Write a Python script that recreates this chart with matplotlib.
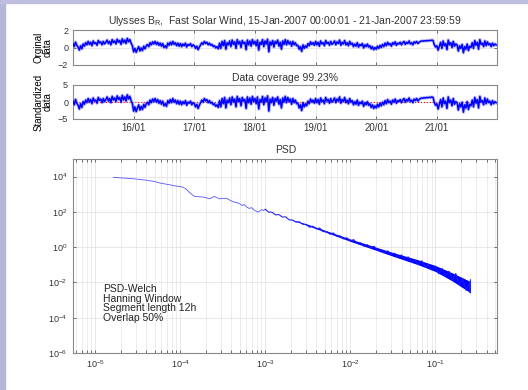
import numpy as np
import matplotlib.pyplot as plt
from matplotlib.patches import Rectangle
from matplotlib.ticker import LogLocator, NullFormatter, FixedLocator

plt.rcParams['font.family'] = ['Liberation Sans', 'DejaVu Sans']
plt.rcParams['mathtext.fontset'] = 'custom'
plt.rcParams['mathtext.rm'] = 'Liberation Sans'
plt.rcParams['mathtext.it'] = 'Liberation Sans:italic'
plt.rcParams['mathtext.bf'] = 'Liberation Sans:bold'

# Ulysses radial field B_R, half-hourly samples, one list per day
br_15 = [0.45, 0.10, 0.62, 0.25, 0.05, -0.30, 0.20, -0.15, 0.40, 0.15, 0.55, 0.30,
         0.70, 0.35, 0.60, 0.20, 0.75, 0.45, 0.55, 0.25, 0.80, 0.50, 0.65, 0.30, 0.70, 0.40, 0.60,
         0.85, 0.45, 0.70, 0.30, 0.90, 0.55, 0.75, 0.40, 0.95, 0.60, 0.80, 0.35, 1.00, 0.55, 0.85, 0.45, 1.05, 0.65,
         0.90, 0.50, 0.20]
br_16 = [-0.50, -0.10, -0.55, -0.20, 0.10, -0.40, -0.05, -0.35, 0.15, -0.15,
         0.20, 0.35, 0.10, 0.55, 0.30, 0.65, 0.40,
         0.70, 0.35, 0.60, 0.25, 0.50, 0.15, 0.45,
         0.00, 0.20, -0.05,
         0.50, 0.25, 0.60, 0.30, 0.70, 0.35, 0.55, 0.20, 0.50,
         0.15, 0.45, 0.10, 0.40, 0.20, 0.50, 0.05, 0.35, 0.25, 0.45, 0.10, 0.30]
br_17 = [0.20, -0.10, 0.15, -0.25, 0.05, 0.30,
         0.55, 0.35, 0.70, 0.45, 0.60, 0.30,
         0.50, 0.25, 0.35, 0.10, 0.20, -0.05, 0.10, -0.15,
         0.50, -0.10, 0.70, 0.20, 0.80, -0.20, 0.55, 0.30,
         0.75, 0.10, 0.85, 0.35, 0.65, -0.10, 0.90, 0.40, 0.70, 0.00, 0.80, 0.45, 0.60, -0.25, 0.85, 0.30,
         0.75, 0.15, 0.90, 0.40]
br_18 = [0.70, 0.20, 0.85, -0.30, 0.60, 0.35, 0.90, 0.10, 0.75, 0.40, 0.95, -0.50, 0.65, 0.30, 0.80, 0.05,
         0.70, 0.45, 0.85, 0.15, 0.60, -0.20, 0.75, 0.35, 0.90, 0.30,
         0.80, 0.40, 0.65, 0.15, 0.70, 0.30, 0.55, 0.20,
         0.25, -0.20, 0.10, -0.45, 0.30, -0.10, 0.20, 0.00,
         0.45, 0.20, 0.65, 0.35, 0.55, 0.25]
br_19 = [0.70, 0.30, 0.60, 0.15, 0.75, 0.40, 0.55, 0.20, 0.80, 0.45, 0.60, 0.25, 0.70, 0.35, 0.50,
         0.75, 0.30, 0.65, 0.45, 0.85, 0.25, 0.60, 0.40, 0.80, 0.30, 0.55, 0.20, 0.70, 0.35,
         0.50, 0.10, 0.40, 0.15, 0.55, 0.05, 0.35, 0.20, 0.45, -0.05, 0.30, 0.10, 0.40,
         0.05, 0.20, -0.15, 0.10, -0.25, 0.00]
br_20 = [-0.20, 0.15, -0.10, 0.25, 0.00, 0.35, 0.10,
         0.50, 0.20, 0.60, 0.30, 0.45, 0.15, 0.55, 0.35, 0.65, 0.25, 0.50, 0.40, 0.60, 0.30, 0.55,
         0.70, 0.35, 0.60, 0.45, 0.75, 0.40, 0.55, 0.30, 0.65, 0.50, 0.70, 0.45, 0.60,
         0.70, 0.75, 0.72, 0.78, 0.74, 0.80, 0.76, 0.82, 0.78, 0.85, 0.80,
         0.30, 0.05]
br_21 = [0.20, -0.30, 0.15,
         0.60, -0.10, 0.75, 0.20, 0.45, -0.25, 0.85, 0.30, 0.55, 0.00, 0.70, 0.15, 0.40,
         0.30, -0.40, 0.20, -0.10, 0.35, -0.60, 0.10, -0.20, 0.40, -0.35, 0.15, 0.00,
         0.55, -0.10, 0.80, 0.25, 0.60, -0.20, 0.90, 0.35, 0.50, 0.10, 0.75, 0.20, 0.65, 0.30,
         0.45, 0.10, 0.50, 0.20, 0.40, 0.30]

day_ticks = [1, 2, 3, 4, 5, 6]
day_labels = ['16/01', '17/01', '18/01', '19/01', '20/01', '21/01']
coverage = 99.23

# Welch PSD, log10(frequency) and log10(power); smooth low-frequency end first
psd_logf_low = [-4.785, -4.70, -4.60, -4.47, -4.40, -4.30, -4.24, -4.15, -4.05, -3.98,
                -3.94, -3.90, -3.86, -3.83, -3.78, -3.73, -3.69, -3.66, -3.63, -3.60,
                -3.57, -3.54, -3.50, -3.46, -3.42, -3.39, -3.36, -3.33, -3.30, -3.27,
                -3.25, -3.22, -3.19, -3.16, -3.13, -3.10, -3.08, -3.06, -3.04, -3.02,
                -3.00]
psd_logp_low = [3.96, 3.93, 3.90, 3.84, 3.80, 3.72, 3.64, 3.56, 3.47, 3.42,
                3.33, 3.15, 2.98, 2.88, 2.86, 2.84, 2.80, 2.74, 2.80, 2.88,
                2.82, 2.74, 2.76, 2.78, 2.68, 2.60, 2.55, 2.52, 2.46, 2.36,
                2.42, 2.28, 2.20, 2.24, 2.10, 2.03, 1.99, 2.08, 2.13, 2.07,
                2.15]
psd_logf_high = [-3.00, -2.96, -2.92, -2.88, -2.84, -2.80, -2.76, -2.72, -2.68, -2.64,
                 -2.60, -2.56, -2.52, -2.48, -2.44, -2.40, -2.36, -2.32, -2.28, -2.24,
                 -2.20, -2.16, -2.12, -2.08, -2.04, -2.00, -1.96, -1.92, -1.88, -1.84,
                 -1.80, -1.76, -1.72, -1.68, -1.64, -1.60, -1.56, -1.52, -1.48, -1.44,
                 -1.40, -1.36, -1.32, -1.28, -1.24, -1.20, -1.16, -1.12, -1.08, -1.04,
                 -1.00, -0.96, -0.92, -0.88, -0.84, -0.80, -0.76, -0.72, -0.68, -0.64,
                 -0.60, -0.59, -0.588]
psd_logp_high = [2.15, 1.99, 1.98, 1.83, 1.85, 1.71, 1.72, 1.55, 1.54, 1.42,
                 1.44, 1.30, 1.29, 1.13, 1.19, 1.04, 1.08, 0.88, 0.89, 0.74,
                 0.81, 0.62, 0.64, 0.47, 0.53, 0.36, 0.43, 0.21, 0.25, 0.05,
                 0.14, -0.03, 0.05, -0.19, -0.14, -0.31, -0.21, -0.42, -0.34, -0.60,
                 -0.44, -0.67, -0.55, -0.83, -0.74, -0.99, -0.77, -1.11, -0.98, -1.29,
                 -1.07, -1.52, -1.21, -1.64, -1.36, -1.88, -1.49, -2.14, -1.76, -2.45,
                 -2.08, -2.60, -1.85]

# spread of the estimate at high frequencies
band_logf = [-2.7, -2.5, -2.0, -1.5, -1.2, -1.0, -0.8, -0.6]
band_hi = [1.58, 1.30, 0.46, -0.30, -0.72, -1.04, -1.46, -1.92]
band_lo = [1.56, 1.22, 0.33, -0.51, -1.00, -1.38, -1.92, -2.55]

br = np.array(br_15 + br_16 + br_17 + br_18 + br_19 + br_20 + br_21)
t_days = np.arange(br.size) / 48.0
br_std = (br - br.mean()) / br.std()

W, H = 528, 390
fig = plt.figure(figsize=(W / 100, H / 100), dpi=100)
fig.patch.set_facecolor('white')
# slide frame
fig.add_artist(Rectangle((0, 0), 5 / W, 1, transform=fig.transFigure, color='#b4b6dc', zorder=0))
fig.add_artist(Rectangle((0, 1 - 3 / H), 1, 3 / H, transform=fig.transFigure, color='#c0bede', zorder=0))

spine_c = '#8a8a8a'
grid_c = '#e4e4e4'


def style(ax):
    for s in ax.spines.values():
        s.set_color(spine_c)
        s.set_linewidth(0.8)
    ax.tick_params(which='both', direction='in', colors='#555555', labelcolor='#333333',
                   labelsize=6.5, length=2, width=0.6, top=True, right=True)


left, width = 73 / W, 424.5 / W
ax1 = fig.add_axes([left, 1 - 65 / H, width, 35 / H])
ax2 = fig.add_axes([left, 1 - 119 / H, width, 34 / H])
ax3 = fig.add_axes([left, 1 - 353 / H, width, 194 / H])

for ax, y, lim, ticks in [(ax1, br, 2, [-2, 0, 2]), (ax2, br_std, 5, [-5, 0, 5])]:
    style(ax)
    if ax is ax2:
        ax.axhline(0, color='red', lw=0.8, ls=':', zorder=1)
    # soft halo under the trace, then the trace itself
    ax.plot(t_days, y, color='#7070ff', lw=2.4, alpha=0.45, zorder=2)
    ax.plot(t_days, y, color='#0000ff', lw=1.1, zorder=3)
    ax.set_xlim(0, 7)
    ax.set_ylim(-lim, lim)
    ax.set_yticks(ticks)
    ax.set_xticks(day_ticks)
    ax.grid(True, color=grid_c, lw=0.6)
    ax.set_axisbelow(True)

ax1.set_xticklabels([])
ax2.set_xticklabels(day_labels, fontsize=7)
ax2.tick_params(axis='x', pad=3)

ax1.set_title('Ulysses B$_{\\mathrm{R}}$,  Fast Solar Wind, 15-Jan-2007 00:00:01 - 21-Jan-2007 23:59:59',
              fontsize=7.5, color='#333333', pad=4)
ax2.set_title('Data coverage %.2f%%' % coverage, fontsize=7.5, color='#333333', pad=3)
ax1.set_ylabel('Orginal\ndata', fontsize=7, family=['Liberation Sans Narrow', 'Liberation Sans'],
               linespacing=0.9, labelpad=4)
ax2.set_ylabel('Standardized\ndata', fontsize=7, family=['Liberation Sans Narrow', 'Liberation Sans'],
               linespacing=0.9, labelpad=4)

# power spectral density
style(ax3)
ax3.fill_between(10.0 ** np.array(band_logf), 10.0 ** np.array(band_lo), 10.0 ** np.array(band_hi),
                 color='#0000ff', lw=0, zorder=2)
ax3.plot(10.0 ** np.array(psd_logf_low), 10.0 ** np.array(psd_logp_low),
         color='#5555ff', lw=0.6, zorder=3)
ax3.plot(10.0 ** np.array(psd_logf_high), 10.0 ** np.array(psd_logp_high),
         color='#1a1aff', lw=0.75, zorder=3)
ax3.set_xscale('log')
ax3.set_yscale('log')
ax3.set_xlim(10 ** -5.26, 10 ** -0.27)
ax3.set_ylim(1e-6, 1e5)
ax3.xaxis.set_major_locator(LogLocator(base=10, numticks=10))
ax3.xaxis.set_minor_locator(LogLocator(base=10, subs=np.arange(2, 10), numticks=20))
ax3.xaxis.set_minor_formatter(NullFormatter())
ax3.yaxis.set_major_locator(FixedLocator([1e-6, 1e-4, 1e-2, 1e0, 1e2, 1e4]))
ax3.yaxis.set_minor_locator(FixedLocator([]))
ax3.grid(True, which='major', color=grid_c, lw=0.6)
ax3.grid(True, which='minor', axis='x', color=grid_c, lw=0.5)
ax3.set_axisbelow(True)
ax3.tick_params(axis='both', labelsize=6.5, pad=4)
ax3.set_title('PSD', fontsize=7.5, color='#333333', pad=4)
ax3.text(0.071, 0.355, 'PSD-Welch\nHanning Window\nSegment length 12h\nOverlap 50%',
         transform=ax3.transAxes, fontsize=7.5, color='#222222', va='top', ha='left',
         linespacing=0.95)

fig.savefig('out.png', dpi=100, facecolor=fig.get_facecolor())
